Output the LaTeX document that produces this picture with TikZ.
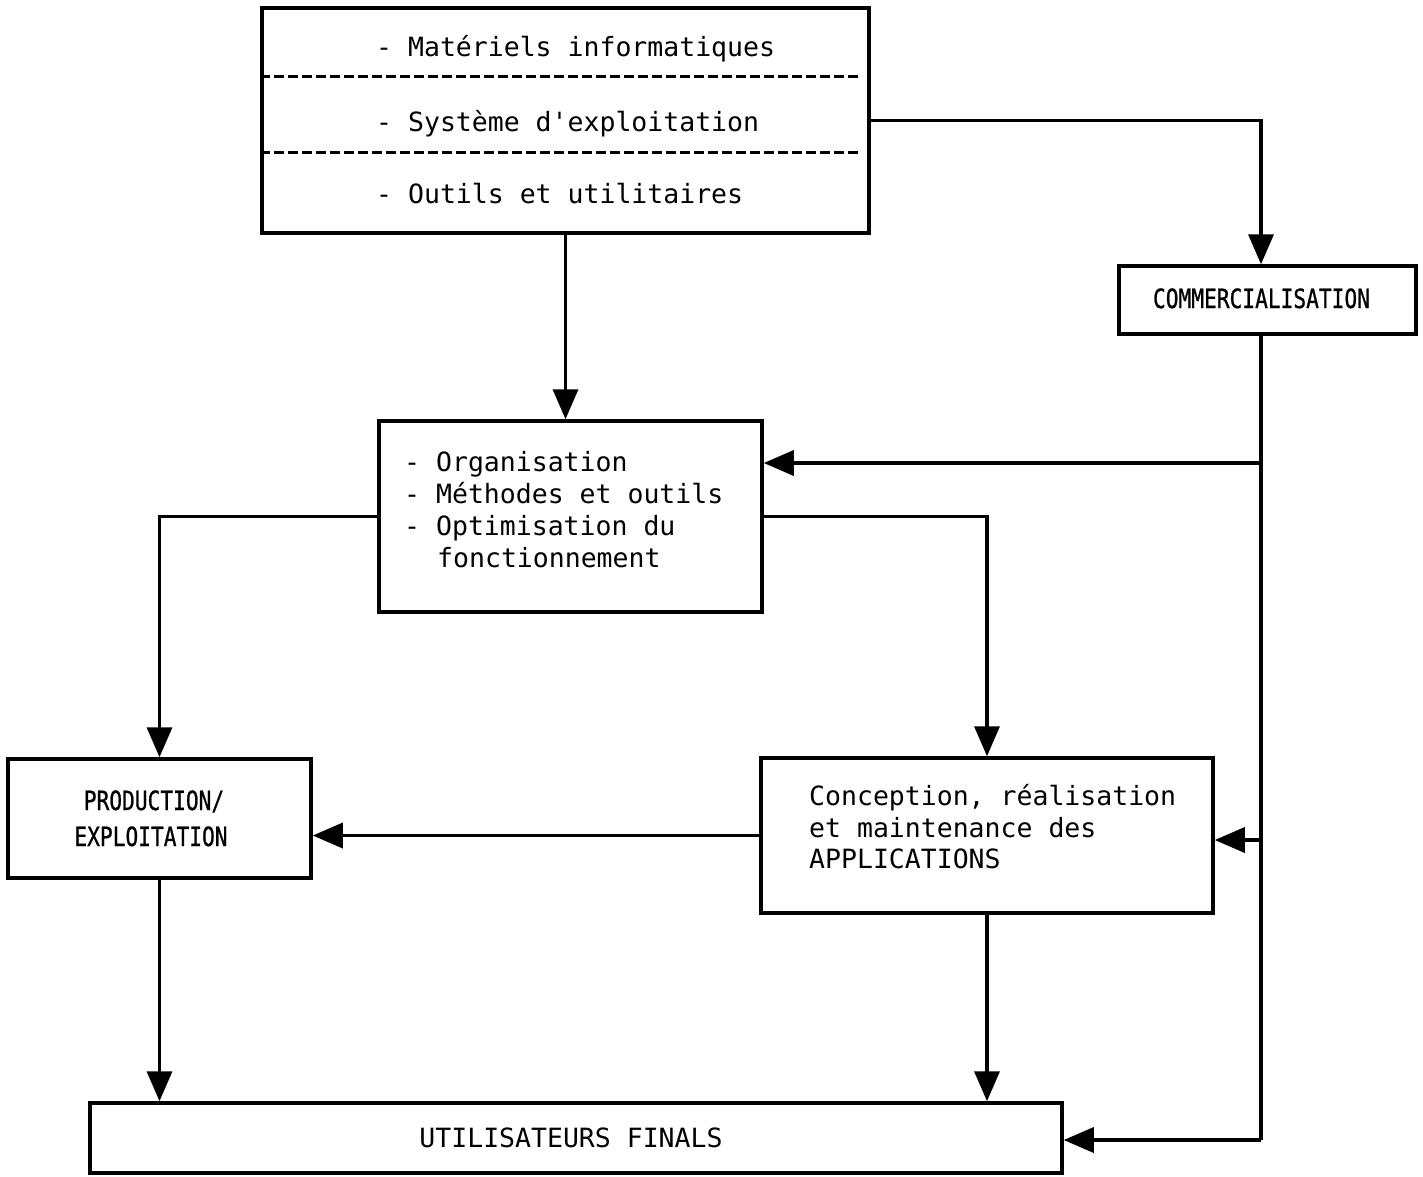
\documentclass[tikz,border=0pt]{standalone}
\usepackage{fontspec}
\setmonofont{DejaVu Sans Mono}
\newfontfamily\narrowfont[FakeStretch=0.8,FakeBold=0.8]{DejaVu Sans Mono}
\usetikzlibrary{arrows.meta}
\begin{document}
\begin{tikzpicture}[x=1pt,y=-1pt,
  box/.style={draw,line width=3.5pt,rectangle,inner sep=0pt},
  txt/.style={inner sep=0pt,font=\ttfamily\fontsize{26.5}{32}\selectfont},
  ntxt/.style={inner sep=0pt,font=\narrowfont\fontsize{26.5}{32}\selectfont},
  arr/.style={line width=3.5pt,-{Triangle[length=30pt,width=25pt]}},
  link/.style={line width=3.5pt},
  sep/.style={line width=3pt,dash pattern=on 10pt off 4pt}]
\useasboundingbox (0,0) rectangle (1423,1176);

% boxes
\node[box,minimum width=607pt,minimum height=225pt] (top) at (565.5,120.5) {};
\node[box,minimum width=297pt,minimum height=68pt] (comm) at (1267.5,300) {};
\node[box,minimum width=383pt,minimum height=191pt] (org) at (570.5,516.5) {};
\node[box,minimum width=303pt,minimum height=119pt] (prod) at (159.5,818.5) {};
\node[box,minimum width=452pt,minimum height=155pt] (conc) at (987,835.5) {};
\node[box,minimum width=972pt,minimum height=70pt] (util) at (576,1138) {};

% separators in the top box
\draw[sep] (top.west |- 0,76) -- (862,76);
\draw[sep] (top.west |- 0,152) -- (862,152);

% texts
\node[txt,anchor=base west] (t1) at (376,56) {- Matériels informatiques};
\node[txt,anchor=base west] (t2) at (376,131) {- Système d'exploitation};
\node[txt,anchor=base west] (t3) at (376,203) {- Outils et utilitaires};

\node[ntxt,anchor=base] (tc) at (1261.5,308) {COMMERCIALISATION};

\node[txt,anchor=base west] (o1) at (404,471) {- Organisation};
\node[txt,anchor=base west] (o2) at (404,503) {- Méthodes et outils};
\node[txt,anchor=base west] (o3) at (404,535) {- Optimisation du};
\node[txt,anchor=base west] (o4) at (437,567) {fonctionnement};

\node[ntxt,anchor=base] (p1) at (154,810) {PRODUCTION/};
\node[ntxt,anchor=base] (p2) at (151,846) {EXPLOITATION};

\node[txt,anchor=base west] (c1) at (809,805) {Conception, réalisation};
\node[txt,anchor=base west] (c2) at (809,837) {et maintenance des};
\node[txt,anchor=base west] (c3) at (809,868) {APPLICATIONS};

\node[txt,anchor=base] (u1) at (571,1147) {UTILISATEURS FINALS};

% connectors
\draw[arr] (top.east) -| ([xshift=-6.5pt]comm.north);
\draw[arr] (top.south) -- (top.south |- org.north);

\coordinate (b1) at (1261,463);
\coordinate (b2) at (1261,840);
\coordinate (trunk) at (1261,1140);
\draw[link] ([xshift=-6.5pt]comm.south) -- (trunk);
\draw[arr] (trunk) -- (trunk -| util.east);
\draw[arr] (b1) -- (b1 -| org.east);
\draw[arr] (b2) -- (b2 -| conc.east);

\draw[arr] (org.west) -| (prod.north);
\draw[arr] (org.east) -| (conc.north);
\draw[arr] (conc.west) -- (conc.west -| prod.east);
\draw[arr] (prod.south) -- (prod.south |- util.north);
\draw[arr] (conc.south) -- (conc.south |- util.north);
\end{tikzpicture}
\end{document}
